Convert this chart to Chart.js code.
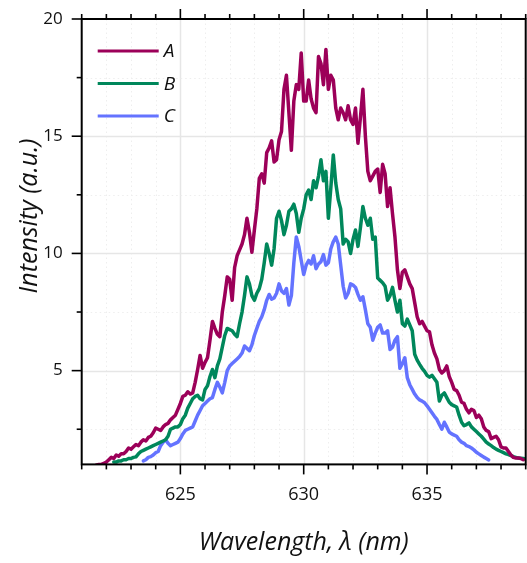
<!DOCTYPE html>
<html>
<head>
<meta charset="utf-8">
<script src="https://cdn.jsdelivr.net/npm/chart.js@4/dist/chart.umd.min.js"></script>
<style>
  html, body { margin: 0; padding: 0; background: #ffffff; }
  #wrap { position: relative; width: 527px; height: 563px; }
</style>
</head>
<body>
<div id="wrap"><canvas id="spectrum" width="527" height="563"></canvas></div>
<script>
// Emission spectra of three samples, sampled every 0.1 nm
const wavelength = [
  621.6,621.7,621.8,621.9,622.0,622.1,622.2,622.3,622.4,622.5,
  622.6,622.7,622.8,622.9,623.0,623.1,623.2,623.3,623.4,623.5,
  623.6,623.7,623.8,623.9,624.0,624.1,624.2,624.3,624.4,624.5,
  624.6,624.7,624.8,624.9,625.0,625.1,625.2,625.3,625.4,625.5,
  625.6,625.7,625.8,625.9,626.0,626.1,626.2,626.3,626.4,626.5,
  626.6,626.7,626.8,626.9,627.0,627.1,627.2,627.3,627.4,627.5,
  627.6,627.7,627.8,627.9,628.0,628.1,628.2,628.3,628.4,628.5,
  628.6,628.7,628.8,628.9,629.0,629.1,629.2,629.3,629.4,629.5,
  629.6,629.7,629.8,629.9,630.0,630.1,630.2,630.3,630.4,630.5,
  630.6,630.7,630.8,630.9,631.0,631.1,631.2,631.3,631.4,631.5,
  631.6,631.7,631.8,631.9,632.0,632.1,632.2,632.3,632.4,632.5,
  632.6,632.7,632.8,632.9,633.0,633.1,633.2,633.3,633.4,633.5,
  633.6,633.7,633.8,633.9,634.0,634.1,634.2,634.3,634.4,634.5,
  634.6,634.7,634.8,634.9,635.0,635.1,635.2,635.3,635.4,635.5,
  635.6,635.7,635.8,635.9,636.0,636.1,636.2,636.3,636.4,636.5,
  636.6,636.7,636.8,636.9,637.0,637.1,637.2,637.3,637.4,637.5,
  637.6,637.7,637.8,637.9,638.0,638.1,638.2,638.3,638.4,638.5,
  638.6,638.7,638.8,638.9,639.0
];

const intensityA = [
  0.98,1.0,1.0,1.05,1.1,1.2,1.3,1.25,1.4,1.35,
  1.45,1.45,1.55,1.7,1.65,1.75,1.85,1.8,1.95,2.05,
  2.0,2.15,2.2,2.35,2.55,2.5,2.45,2.6,2.7,2.75,
  2.9,3.0,3.1,3.35,3.6,3.9,3.95,4.1,4.0,4.05,
  4.5,5.05,5.65,5.1,5.35,5.55,6.3,7.1,6.8,6.55,
  6.45,7.5,8.2,9.0,8.9,8.0,9.4,9.9,10.15,10.4,
  10.8,11.5,10.9,10.05,11.0,11.9,13.2,13.4,13.0,14.3,
  14.5,14.8,13.9,14.0,14.85,15.2,17.0,17.6,16.0,14.4,
  16.5,17.2,17.0,18.55,16.5,16.5,17.4,16.6,16.2,16.0,
  18.4,18.1,17.2,18.7,17.0,17.6,17.4,16.2,15.7,16.2,
  16.0,15.7,16.3,15.7,15.5,16.2,14.7,15.8,17.0,15.0,
  13.5,13.1,13.3,13.5,13.6,12.6,13.8,13.4,12.0,12.8,
  11.7,10.7,9.3,8.5,9.2,9.3,9.0,8.7,8.5,7.9,
  7.3,7.0,7.1,6.9,6.7,6.65,6.1,5.75,5.5,5.05,
  4.9,5.0,5.2,4.75,4.5,4.2,4.15,3.95,3.65,3.6,
  3.35,3.2,3.35,3.3,3.0,3.1,2.95,2.6,2.45,2.4,
  2.1,2.15,2.2,2.05,1.75,1.7,1.7,1.55,1.4,1.3,
  1.27,1.27,1.25,1.2,null
];

const intensityB = [
  null,null,null,null,null,null,null,1.1,1.1,1.15,
  1.15,1.2,1.2,1.25,1.25,1.3,1.32,1.45,1.55,1.6,
  1.65,1.7,1.75,1.8,1.85,1.9,1.95,2.0,2.05,2.2,
  2.5,2.55,2.6,2.6,2.7,2.95,3.1,3.4,3.6,3.8,
  3.9,3.95,3.8,3.75,4.2,4.35,4.75,5.05,4.7,5.2,
  5.5,6.0,6.5,6.8,6.75,6.7,6.55,6.45,7.0,7.5,
  8.2,9.0,8.7,8.2,8.0,8.3,8.5,8.9,9.6,10.4,
  10.0,9.5,10.2,11.5,11.8,11.4,10.8,11.2,11.8,11.9,
  12.1,11.7,10.9,11.5,11.9,12.5,12.7,12.3,13.1,12.8,
  13.3,14.0,13.1,13.5,11.5,12.8,14.2,13.0,12.3,11.9,
  10.4,10.6,10.5,10.0,10.6,11.0,10.3,11.1,12.0,11.5,
  11.2,11.5,10.6,10.7,8.95,8.85,8.75,8.6,8.0,8.2,
  8.55,8.0,7.5,8.0,7.0,6.9,7.2,6.95,6.7,5.7,
  5.45,5.27,5.1,4.97,4.8,4.72,4.8,4.65,4.5,3.7,
  3.95,4.05,3.85,3.65,3.55,3.5,3.45,3.1,2.8,2.65,
  2.7,2.77,2.6,2.5,2.4,2.3,2.2,2.08,1.95,1.87,
  1.8,1.72,1.65,1.6,1.55,1.5,1.45,1.42,1.38,1.33,
  1.3,1.27,1.26,1.25,1.23
];

const intensityC = [
  null,null,null,null,null,null,null,null,null,null,
  null,null,null,null,null,null,null,null,null,1.15,
  1.2,1.3,1.33,1.4,1.5,1.55,1.8,1.95,2.05,1.9,
  1.8,1.85,1.9,1.95,2.1,2.3,2.45,2.5,2.55,2.6,
  2.85,3.1,3.3,3.5,3.6,3.7,3.8,3.85,4.2,4.5,
  4.3,4.05,4.5,5.0,5.2,5.3,5.4,5.5,5.6,5.75,
  6.05,5.95,5.85,6.1,6.5,6.8,7.1,7.3,7.6,8.0,
  8.25,8.05,8.1,8.3,8.7,8.4,8.3,8.5,7.8,8.2,
  9.6,10.7,10.3,9.7,9.1,9.5,9.7,9.55,9.9,9.35,
  9.55,9.65,9.95,9.5,9.6,10.2,10.5,10.7,10.4,9.5,
  8.6,8.1,8.3,8.7,8.65,8.55,8.25,8.0,8.15,7.6,
  7.0,6.85,6.3,6.6,6.85,6.95,6.6,6.6,6.7,5.9,
  6.0,6.3,6.45,5.1,5.3,5.55,4.7,4.4,4.2,4.0,
  3.85,3.75,3.7,3.63,3.5,3.35,3.2,3.05,2.92,2.7,
  2.5,2.8,2.6,2.38,2.3,2.25,2.2,2.05,1.95,1.9,
  1.8,1.76,1.7,1.62,1.52,1.45,1.38,1.31,1.25,1.19,
  null,null,null,null,null,null,null,null,null,null,
  null,null,null,null,null
];

const seriesNames = ['A', 'B', 'C'];
const seriesColors = ['#9c0059', '#00875b', '#6473ff'];
const xTickLabels = [625, 630, 635];
const yTickLabels = [5, 10, 15, 20];
const xTitle = 'Wavelength, \u03bb (nm)';
const yTitle = 'Intensity (a.u.)';

const FONT = '"Open Sans", "DejaVu Sans", sans-serif';

function toPoints(values) {
  return wavelength.map((w, i) => ({ x: w, y: values[i] }));
}

function strokeLine(ctx, x1, y1, x2, y2) {
  ctx.beginPath();
  ctx.moveTo(x1, y1);
  ctx.lineTo(x2, y2);
  ctx.stroke();
}

// the plot frame is fixed, so the scales must not reserve room for edge labels
function noEdgePadding(scale) {
  scale.paddingTop = 0;
  scale.paddingBottom = 0;
  scale.paddingLeft = 0;
  scale.paddingRight = 0;
}

// Grid behind the curves; frame, tick marks, legend and axis titles on top
const decorations = {
  id: 'decorations',
  beforeDatasetsDraw(chart) {
    const { ctx, chartArea: a, scales: { x, y } } = chart;
    ctx.save();
    x.ticks.forEach(t => {
      if (t.value <= x.min || t.value >= x.max) return;
      const major = t.value % 5 === 0;
      const px = Math.round(x.getPixelForValue(t.value)) + 0.5;
      ctx.strokeStyle = major ? '#e6e6e6' : '#eeeeee';
      ctx.lineWidth = major ? 1.5 : 1;
      ctx.setLineDash(major ? [] : [1.5, 3]);
      strokeLine(ctx, px, a.top, px, a.bottom);
    });
    y.ticks.forEach(t => {
      if (t.value <= y.min || t.value >= y.max) return;
      const major = t.value % 5 === 0;
      const py = Math.round(y.getPixelForValue(t.value)) + 0.5;
      ctx.strokeStyle = major ? '#e6e6e6' : '#eeeeee';
      ctx.lineWidth = major ? 1.5 : 1;
      ctx.setLineDash(major ? [] : [1.5, 3]);
      strokeLine(ctx, a.left, py, a.right, py);
    });
    ctx.restore();
  },
  afterDatasetsDraw(chart) {
    const { ctx, chartArea: a, scales: { x, y } } = chart;
    ctx.save();
    ctx.strokeStyle = '#000000';
    ctx.setLineDash([]);

    // tick marks: outward on bottom, top and left
    ctx.lineWidth = 1.6;
    x.ticks.forEach(t => {
      const len = t.value % 5 === 0 ? 10 : 5;
      const px = x.getPixelForValue(t.value);
      strokeLine(ctx, px, a.bottom, px, a.bottom + len);
      strokeLine(ctx, px, a.top, px, a.top - len);
    });
    y.ticks.forEach(t => {
      if (t.value < y.min || t.value > y.max) return;
      const len = t.value % 5 === 0 ? 10 : 5;
      const py = y.getPixelForValue(t.value);
      strokeLine(ctx, a.left, py, a.left - len, py);
    });

    // frame
    ctx.lineWidth = 2;
    ctx.strokeRect(a.left, a.top, a.right - a.left, a.bottom - a.top);

    // legend
    ctx.font = 'italic 19px ' + FONT;
    ctx.textAlign = 'left';
    ctx.textBaseline = 'middle';
    ctx.lineWidth = 3;
    chart.data.datasets.forEach((ds, i) => {
      const ly = a.top + 32 + i * 32.5;
      ctx.strokeStyle = ds.borderColor;
      strokeLine(ctx, a.left + 16, ly, a.left + 77, ly);
      ctx.fillStyle = '#111111';
      ctx.fillText(ds.label, a.left + 82, ly + 1);
    });

    // axis titles
    ctx.fillStyle = '#111111';
    ctx.font = 'italic 25px ' + FONT;
    ctx.textAlign = 'center';
    ctx.textBaseline = 'middle';
    ctx.fillText(xTitle, (a.left + a.right) / 2, 543);
    ctx.translate(30, 216);
    ctx.rotate(-Math.PI / 2);
    ctx.fillText(yTitle, 0, 0);
    ctx.restore();
  }
};

new Chart(document.getElementById('spectrum'), {
  type: 'line',
  data: {
    datasets: seriesNames.map((name, i) => ({
      label: name,
      data: toPoints([intensityA, intensityB, intensityC][i]),
      borderColor: seriesColors[i],
      borderWidth: 3.5,
      borderJoinStyle: 'round',
      borderCapStyle: 'round',
      pointRadius: 0,
      tension: 0,
      spanGaps: false
    }))
  },
  options: {
    responsive: false,
    devicePixelRatio: 1,
    animation: false,
    layout: { padding: { top: 19, right: 1.3, bottom: 0, left: 0 } },
    plugins: { legend: { display: false }, tooltip: { enabled: false } },
    scales: {
      x: {
        type: 'linear',
        min: 621,
        max: 639,
        grid: { display: false, drawTicks: false },
        border: { display: false },
        ticks: {
          stepSize: 1,
          autoSkip: false,
          maxRotation: 0,
          padding: 20,
          color: '#111111',
          font: { family: FONT, size: 18 },
          callback: v => (xTickLabels.includes(v) ? String(v) : '')
        },
        afterFit(scale) { scale.height = 563 - 464.4; noEdgePadding(scale); }
      },
      y: {
        type: 'linear',
        min: 1,
        max: 20,
        grid: { display: false, drawTicks: false },
        border: { display: false },
        ticks: {
          stepSize: 2.5,
          includeBounds: false,
          autoSkip: false,
          padding: 19,
          color: '#111111',
          font: { family: FONT, size: 17 },
          callback: v => (yTickLabels.includes(v) ? String(v) : '')
        },
        afterFit(scale) { scale.width = 81.7; noEdgePadding(scale); }
      }
    }
  },
  plugins: [decorations]
});
</script>
</body>
</html>
